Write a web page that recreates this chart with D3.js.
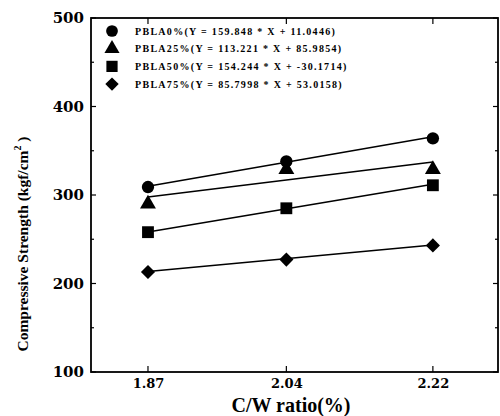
<!DOCTYPE html>
<html>
<head>
<meta charset="utf-8">
<script src="https://cdn.jsdelivr.net/npm/d3@7"></script>
<style>
  body { margin: 0; background: #fff; }
  svg { display: block; }
  text { fill: #000; }
</style>
</head>
<body>
<script>
// C/W ratio values on the x axis
const ratios = [1.87, 2.04, 2.22];
const yTicks = [100, 200, 300, 400, 500];

// measured compressive strength per mix
const series = ["PBLA0%", "PBLA25%", "PBLA50%", "PBLA75%"];
const pbla0 = [309, 338, 364];
const pbla25 = [290, 329, 329];
const pbla50 = [258, 285, 311];
const pbla75 = [213, 227, 243];
const values = [pbla0, pbla25, pbla50, pbla75];

// regression lines Y = a * X + b from the legend
const slopes = [159.848, 113.221, 154.244, 85.7998];
const intercepts = [11.0446, 85.9854, -30.1714, 53.0158];
const slopeText = ["159.848", "113.221", "154.244", "85.7998"];
const interceptText = ["11.0446", "85.9854", "-30.1714", "53.0158"];

// diamond = square turned 45 degrees
const symbols = [d3.symbolCircle, d3.symbolTriangle, d3.symbolSquare, d3.symbolSquare];
const symSize = [120, 110, 140, 100];
const symRot = [0, 0, 0, 45];

const width = 500, height = 416;
const plotL = 91, plotR = 498, plotT = 18, plotB = 372;

const svg = d3.select("body").append("svg")
  .attr("width", width)
  .attr("height", height);

let x = d3.scaleLinear().domain([1.80, 2.30]).range([plotL, plotR]);
let y = d3.scaleLinear().domain([100, 500]).range([plotB, plotT]);

// frame
svg.append("rect")
  .attr("x", plotL).attr("y", plotT)
  .attr("width", plotR - plotL).attr("height", plotB - plotT)
  .attr("fill", "none")
  .attr("stroke", "#000")
  .attr("stroke-width", 1.8);

// y axis: major + minor inward ticks
let minor = d3.range(150, 500, 100);
let yAxis = d3.axisLeft(y).tickValues(yTicks).tickSize(0).tickPadding(7);
let gy = svg.append("g")
  .attr("transform", `translate(${plotL},0)`)
  .call(yAxis);
gy.select(".domain").remove();
gy.selectAll("text")
  .style("font-family", "'DejaVu Serif', serif")
  .style("font-weight", "bold")
  .style("font-size", "15px");

yTicks.concat(minor).forEach(function(v) {
  let len = yTicks.includes(v) ? 5 : 3;
  svg.append("line")
    .attr("x1", plotL).attr("x2", plotL + len)
    .attr("y1", y(v)).attr("y2", y(v))
    .attr("stroke", "#000").attr("stroke-width", 1.2);
  svg.append("line")
    .attr("x1", plotR).attr("x2", plotR - len)
    .attr("y1", y(v)).attr("y2", y(v))
    .attr("stroke", "#000").attr("stroke-width", 1.2);
});

// x axis
let xAxis = d3.axisBottom(x).tickValues(ratios).tickSize(0).tickPadding(7)
  .tickFormat(d3.format(".2f"));
let gx = svg.append("g")
  .attr("transform", `translate(0,${plotB})`)
  .call(xAxis);
gx.select(".domain").remove();
gx.selectAll("text")
  .style("font-family", "'DejaVu Serif', serif")
  .style("font-weight", "bold")
  .style("font-size", "13px");

ratios.forEach(function(v) {
  svg.append("line")
    .attr("x1", x(v)).attr("x2", x(v))
    .attr("y1", plotB).attr("y2", plotB - 6)
    .attr("stroke", "#000").attr("stroke-width", 1.2);
  svg.append("line")
    .attr("x1", x(v)).attr("x2", x(v))
    .attr("y1", plotT).attr("y2", plotT + 6)
    .attr("stroke", "#000").attr("stroke-width", 1.2);
});

// axis titles
svg.append("text")
  .attr("x", 291).attr("y", 412)
  .attr("text-anchor", "middle")
  .style("font-family", "'Liberation Serif', serif")
  .style("font-weight", "bold")
  .style("font-size", "20px")
  .text("C/W ratio(%)");

let yt = svg.append("text")
  .attr("transform", "translate(28,244)rotate(-90)")
  .attr("text-anchor", "middle")
  .style("font-family", "'Liberation Serif', serif")
  .style("font-weight", "bold")
  .style("font-size", "15.5px");
yt.append("tspan").text("Compressive Strength (kgf/cm");
yt.append("tspan").attr("dy", -7).style("font-size", "10px").text("2");
yt.append("tspan").attr("dy", 7).text(" )");

// regression lines
series.forEach(function(s, i) {
  let x0 = ratios[0], x1 = ratios[ratios.length - 1];
  svg.append("line")
    .attr("x1", x(x0)).attr("y1", y(slopes[i] * x0 + intercepts[i]))
    .attr("x2", x(x1)).attr("y2", y(slopes[i] * x1 + intercepts[i]))
    .attr("stroke", "#000")
    .attr("stroke-width", 1.5);
});

// data markers
series.forEach(function(s, i) {
  svg.selectAll(".pt" + i)
    .data(values[i])
    .enter()
    .append("path")
      .attr("class", "pt" + i)
      .attr("d", d3.symbol().type(symbols[i]).size(symSize[i]))
      .attr("transform", (d, j) => `translate(${x(ratios[j])},${y(d)}) rotate(${symRot[i]})`)
      .attr("fill", "#000");
});

// legend
series.forEach(function(s, i) {
  let ly = 31 + i * 17.7;
  svg.append("path")
    .attr("d", d3.symbol().type(symbols[i]).size(symSize[i] * 0.9))
    .attr("transform", `translate(112,${ly}) rotate(${symRot[i]})`)
    .attr("fill", "#000");
  svg.append("text")
    .attr("x", 135).attr("y", ly + 3.5)
    .style("font-family", "'Liberation Serif', serif")
    .style("font-weight", "bold")
    .style("font-size", "10px")
    .style("letter-spacing", "1.3px")
    .text(s + "(Y = " + slopeText[i] + " * X + " + interceptText[i] + ")");
});
</script>
</body>
</html>
